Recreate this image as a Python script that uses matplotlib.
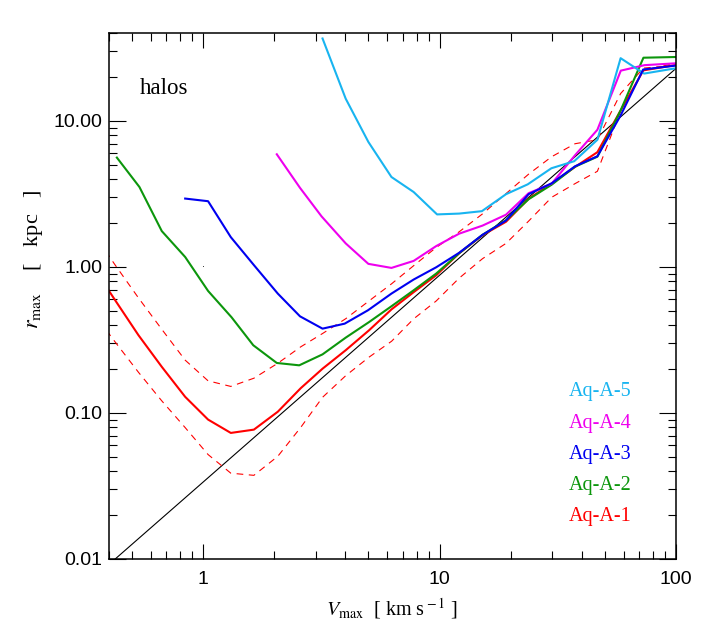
import matplotlib
matplotlib.use("Agg")
from matplotlib import pyplot as plt
from matplotlib.ticker import LogLocator, FixedLocator, NullFormatter

plt.rcParams['font.family'] = ['Liberation Serif', 'DejaVu Serif']
plt.rcParams['mathtext.fontset'] = 'stix'

# Aq-A-5
v5 = [3.20, 4.01, 5.00, 6.26, 7.77, 9.76, 12.1, 15.1, 19.1, 23.6, 29.7, 37.1, 46.5, 58.3, 73.3, 99.0]
r5 = [36.7, 14.2, 7.18, 4.13, 3.26, 2.29, 2.32, 2.41, 3.15, 3.68, 4.74, 5.30, 7.43, 26.9, 21.1, 22.9]

# Aq-A-4
v4 = [2.05, 2.57, 3.17, 4.01, 5.00, 6.26, 7.77, 9.68, 12.1, 15.2, 19.1, 23.8, 29.8, 37.4, 46.5, 58.4, 73.6, 99.0]
r4 = [5.91, 3.48, 2.22, 1.45, 1.05, 0.985, 1.10, 1.39, 1.69, 1.92, 2.28, 3.20, 3.72, 5.82, 8.70, 22.1, 24.1, 24.8]

# Aq-A-3
v3 = [0.84, 1.05, 1.31, 1.64, 2.07, 2.57, 3.20, 3.97, 4.98, 6.26, 7.77, 9.68, 12.1, 15.2, 19.1, 23.8, 29.8, 37.4, 46.5, 58.3, 72.6, 99.0]
r3 = [2.94, 2.82, 1.60, 1.03, 0.657, 0.459, 0.378, 0.409, 0.505, 0.657, 0.820, 0.995, 1.25, 1.66, 2.08, 3.15, 3.74, 4.89, 5.73, 10.9, 22.5, 23.9]

# Aq-A-2
v2 = [0.432, 0.538, 0.669, 0.84, 1.05, 1.32, 1.63, 2.05, 2.55, 3.20, 4.01, 5.03, 6.26, 7.77, 9.68, 12.1, 15.2, 19.1, 23.8, 29.8, 37.4, 46.5, 58.3, 72.8, 99.0]
r2 = [5.61, 3.53, 1.76, 1.17, 0.685, 0.452, 0.291, 0.220, 0.212, 0.252, 0.328, 0.419, 0.538, 0.692, 0.901, 1.24, 1.66, 2.09, 2.91, 3.66, 4.86, 5.69, 11.8, 27.1, 27.4]

# Aq-A-1 and its scatter band
v1 = [0.339, 0.425, 0.533, 0.669, 0.84, 1.05, 1.31, 1.64, 2.07, 2.59, 3.20, 4.01, 5.03, 6.27, 7.77, 9.68, 12.1, 15.2, 19.1, 23.8, 29.8, 37.4, 46.5, 58.3, 72.8, 99.0]
r1 = [1.03, 0.591, 0.341, 0.207, 0.129, 0.0901, 0.0730, 0.0769, 0.102, 0.148, 0.201, 0.269, 0.368, 0.513, 0.672, 0.877, 1.24, 1.65, 2.04, 2.93, 3.73, 4.84, 6.11, 11.8, 22.2, 24.1]
r1_hi = [1.76, 1.03, 0.614, 0.374, 0.230, 0.166, 0.152, 0.173, 0.219, 0.284, 0.350, 0.442, 0.585, 0.767, 1.02, 1.36, 1.74, 2.31, 3.18, 4.32, 5.69, 6.98, 7.43, 15.4, 23.0, 24.0]
r1_lo = [0.500, 0.306, 0.190, 0.121, 0.0794, 0.0519, 0.0387, 0.0374, 0.0505, 0.0798, 0.128, 0.180, 0.241, 0.310, 0.441, 0.585, 0.838, 1.14, 1.45, 2.06, 3.00, 3.72, 4.52, 11.7, 22.2, 24.8]

# reference power law
v_ref = [0.425, 100.0]
r_ref = [0.01, 22.9]

names = ["Aq-A-5", "Aq-A-4", "Aq-A-3", "Aq-A-2", "Aq-A-1"]
colors = ["#18B4F0", "#EE00EE", "#0000F0", "#0C960C", "#FF0000"]

fig = plt.figure(figsize=(7.09, 6.29), dpi=100)
ax = fig.add_axes([0.1537, 0.1113, 0.7998, 0.8362])

ax.plot(v_ref, r_ref, color='black', lw=0.8)
ax.plot(v1, r1_hi, color=colors[4], lw=0.8, ls=(0, (6, 5)))
ax.plot(v1, r1_lo, color=colors[4], lw=0.8, ls=(0, (6, 5)))
ax.plot(v1, r1, color=colors[4], lw=1.5)
ax.plot(v2, r2, color=colors[3], lw=1.5)
ax.plot(v4, r4, color=colors[1], lw=1.5)
ax.plot(v5, r5, color=colors[0], lw=1.5)
ax.plot(v3, r3, color=colors[2], lw=1.5)
ax.plot([1.0], [1.0], ',', color='#444444')

ax.set_xscale('log')
ax.set_yscale('log')
ax.set_xlim(0.40, 100)
ax.set_ylim(0.01, 40)

ax.xaxis.set_major_locator(FixedLocator([1, 10, 100]))
ax.set_xticklabels(["1", "10", "100"])
ax.yaxis.set_major_locator(FixedLocator([0.01, 0.1, 1, 10]))
ax.set_yticklabels(["0.01", "0.10", "1.00", "10.00"])
ax.xaxis.set_minor_locator(LogLocator(base=10, subs=range(2, 10)))
ax.yaxis.set_minor_locator(LogLocator(base=10, subs=range(2, 10)))
ax.xaxis.set_minor_formatter(NullFormatter())
ax.yaxis.set_minor_formatter(NullFormatter())

for lab in ax.get_xticklabels() + ax.get_yticklabels():
    lab.set_family('Liberation Sans')
ax.tick_params(which='both', direction='in', top=True, right=True, width=0.8, labelsize=14)
ax.tick_params(axis='x', which='major', length=11, pad=9)
ax.tick_params(axis='y', which='major', length=12, pad=5)
ax.tick_params(which='minor', length=5.8)
for s in ax.spines.values():
    s.set_linewidth(1.1)

ax.set_xlabel(r"$V_{\rm max}$  [ km s$^{\rm -1}$ ]", fontsize=14.5)
ax.set_ylabel(r"$r_{\rm max}$    [   kpc   ]", fontsize=16)
ax.xaxis.set_label_coords(0.5, -0.07)
ax.yaxis.set_label_coords(-0.112, 0.57)

ax.text(0.055, 0.895, "halos", transform=ax.transAxes, fontsize=16.5, va='center')

for i, (name, c) in enumerate(zip(names, colors)):
    ax.text(0.8115, 0.3175 - i * 0.059, name, color=c, fontsize=14.5,
            transform=ax.transAxes, va='center', ha='left')

fig.savefig("out.png", dpi=100)
